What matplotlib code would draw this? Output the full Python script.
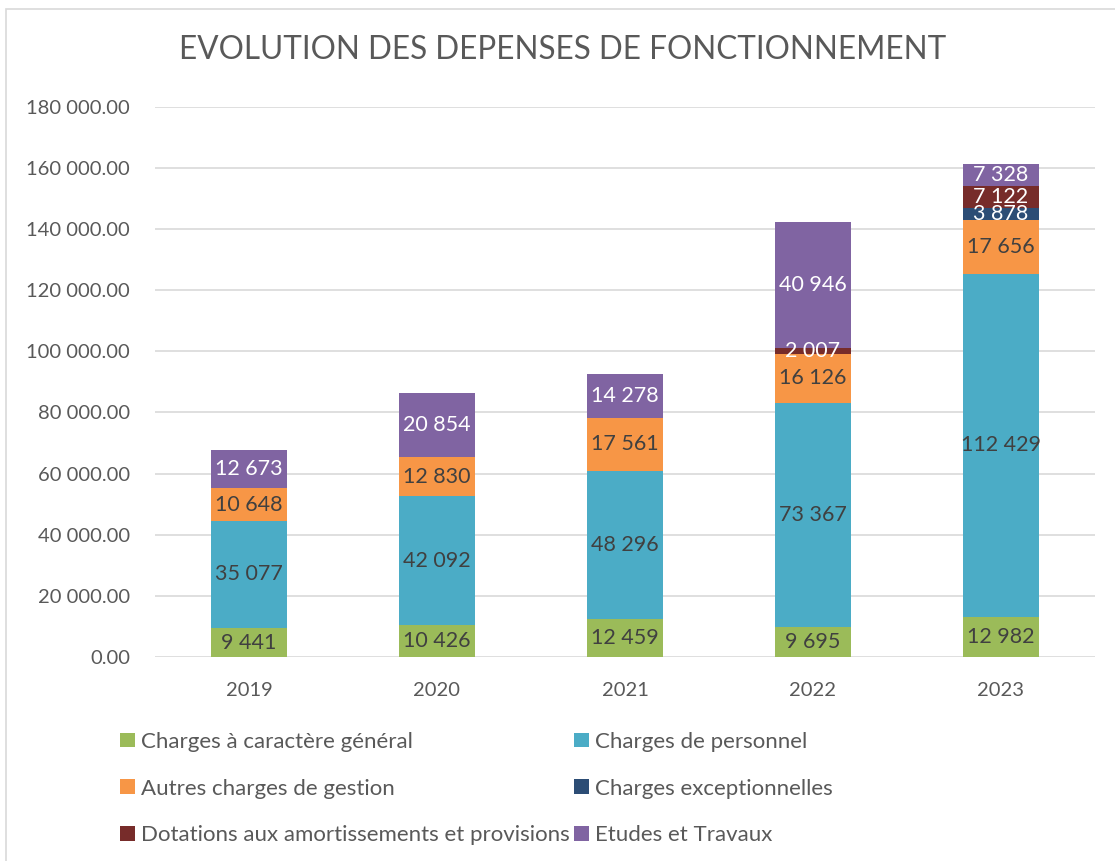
import matplotlib.pyplot as plt
import matplotlib.patches as patches
import numpy as np

plt.rcParams['font.family'] = ['Lato', 'DejaVu Sans']

annees = ['2019', '2020', '2021', '2022', '2023']
series = ['Charges à caractère général', 'Charges de personnel',
          'Autres charges de gestion', 'Charges exceptionnelles',
          'Dotations aux amortissements et provisions', 'Etudes et Travaux']
generales = [9441, 10426, 12459, 9695, 12982]
personnel = [35077, 42092, 48296, 73367, 112429]
autres = [10648, 12830, 17561, 16126, 17656]
exceptionnelles = [0, 0, 0, 0, 3878]
dotations = [0, 0, 0, 2007, 7122]
etudes = [12673, 20854, 14278, 40946, 7328]

valeurs = [generales, personnel, autres, exceptionnelles, dotations, etudes]
couleurs = ['#9BBB59', '#4BACC6', '#F79646', '#2C4D75', '#772C2A', '#8064A2']
couleurs_txt = ['#404040', '#404040', '#404040', 'white', 'white', 'white']

fig = plt.figure(figsize=(11.15, 8.61), dpi=100)
ax = fig.add_axes([0.139, 0.237, 0.843, 0.639])

x = np.arange(len(annees))
bas = np.zeros(len(annees))
barres = []
for nom, v, c, ct in zip(series, valeurs, couleurs, couleurs_txt):
    v = np.array(v, dtype=float)
    b = ax.bar(x, v, 0.4, bottom=bas, color=c, label=nom, zorder=3)
    barres.append(b)
    for i in range(len(x)):
        if v[i] > 0:
            txt = f"{int(v[i]):,}".replace(',', ' ')
            ax.text(x[i], bas[i] + v[i] / 2, txt, ha='center', va='center',
                    color=ct, fontsize=15.5, zorder=4)
    bas += v

ax.set_xlim(-0.5, 4.5)
ax.set_ylim(0, 180000)
ax.set_yticks(np.arange(0, 180001, 20000))
ax.set_yticklabels([f"{t:,.2f}".replace(',', ' ') for t in np.arange(0, 180001, 20000)])
ax.set_xticks(x)
ax.set_xticklabels(annees)
ax.tick_params(axis='both', length=0, labelsize=14.5, colors='#595959')
ax.tick_params(axis='x', pad=18)
ax.tick_params(axis='y', pad=18)
ax.grid(axis='y', color='#D9D9D9', linewidth=1.2, zorder=0)
for s in ['top', 'right', 'left', 'bottom']:
    ax.spines[s].set_visible(False)

fig.text(0.505, 0.942, 'EVOLUTION DES DEPENSES DE FONCTIONNEMENT', ha='center',
         va='center', fontsize=22.7, color='#595959')

ordre = [0, 2, 4, 1, 3, 5]
leg = fig.legend([barres[i] for i in ordre], [series[i] for i in ordre],
                 loc='upper left', bbox_to_anchor=(0.108, 0.15), ncol=2,
                 frameon=False, fontsize=16, handlelength=0.65, handleheight=0.65,
                 handletextpad=0.28, columnspacing=0.2, labelspacing=1.2,
                 borderaxespad=0, borderpad=0)
for t in leg.get_texts():
    t.set_color('#595959')

fig.patches.append(patches.Rectangle((0.005, -0.01), 1.1, 1.0, transform=fig.transFigure,
                                     fill=False, edgecolor='#D9D9D9', linewidth=1.2))

fig.savefig('out.png', dpi=100)
